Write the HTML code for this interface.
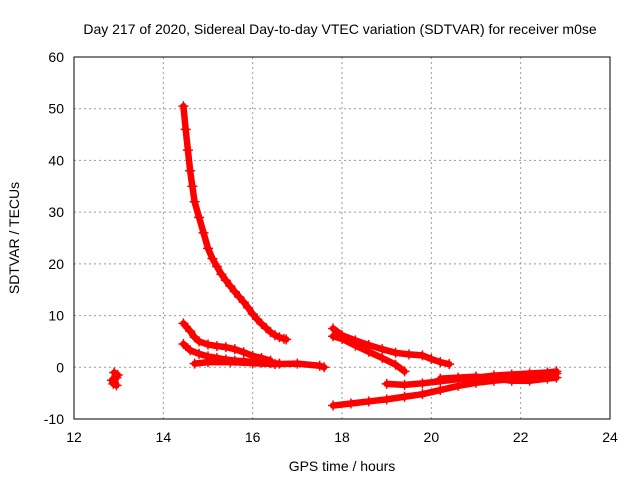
<!DOCTYPE html>
<html><head><meta charset="utf-8"><style>
body{margin:0;background:#fff}
svg{display:block;font-family:"Liberation Sans",sans-serif}
</style></head><body>
<svg id="c" width="640" height="480">
<text x="340" y="34" text-anchor="middle" font-size="14">Day 217 of 2020, Sidereal Day-to-day VTEC variation (SDTVAR) for receiver m0se</text>
<text x="342" y="471" text-anchor="middle" font-size="14">GPS time / hours</text>
<text transform="translate(19,238) rotate(-90)" text-anchor="middle" font-size="14">SDTVAR / TECUs</text>
<g id="grid"></g><g id="marks"></g>
<rect x="74" y="57" width="536" height="362" fill="none" stroke="#000" stroke-width="1"/>
</svg>
<script>
const xTicks=[12,14,16,18,20,22,24];
const yTicks=[-10,0,10,20,30,40,50,60];
const sA=[[14.45,50.5],[14.5,46],[14.55,42],[14.6,38],[14.65,35],[14.7,32],[14.8,29],[14.9,26],[15.0,23],[15.1,21],[15.2,19.5],[15.3,18],[15.4,16.8],[15.5,15.7],[15.6,14.6],[15.7,13.6],[15.8,12.6],[15.9,11.5],[16.0,10.3],[16.1,9.3],[16.2,8.4],[16.3,7.6],[16.4,6.8],[16.5,6.2],[16.6,5.8],[16.7,5.5],[16.75,5.4]];
const sB=[[14.45,8.5],[14.6,7],[14.7,5.8],[14.8,5],[15.0,4.4],[15.2,4.1],[15.4,3.9],[15.6,3.5],[15.8,2.9],[16.0,2.2],[16.2,1.8],[16.4,1.3]];
const sC=[[14.45,4.5],[14.6,3.3],[14.8,2.6],[15.0,2.1],[15.2,1.8],[15.4,1.5],[15.6,1.3],[15.8,1.2],[16.0,1.0],[16.2,0.9],[16.4,0.8],[16.6,0.7]];
const sD=[[14.7,0.7],[15.0,1],[15.5,1],[16,0.8],[16.5,0.6],[17,0.7],[17.5,0.3],[17.6,0]];
const sE=[[12.9,-1],[12.95,-2],[12.9,-3],[12.95,-3.5],[12.85,-2.5],[12.98,-1.5],[12.88,-3.2]];
const sF=[[17.8,7.5],[18.0,6.2],[18.3,5.2],[18.6,4.3],[18.9,3.5],[19.2,2.8],[19.5,2.5],[19.8,2.3],[20.0,1.6],[20.2,1.0],[20.4,0.6]];
const sG=[[17.8,6],[18.0,5.5],[18.3,4.2],[18.6,3],[18.9,1.8],[19.2,0.5],[19.4,-0.8]];
const sH=[[17.8,-7.4],[18.2,-7],[18.6,-6.6],[19.0,-6.2],[19.4,-5.7],[19.8,-5.2],[20.2,-4.4],[20.6,-3.6],[21.0,-3],[21.4,-2.6],[21.8,-2.3],[22.2,-2],[22.6,-1.5],[22.8,-1.2]];
const sI=[[19.0,-3.2],[19.4,-3.4],[19.8,-3.1],[20.2,-2.7],[20.6,-2.3],[21.0,-2.0],[21.4,-1.6],[21.8,-1.4],[22.2,-1.2],[22.6,-1.0],[22.8,-0.8]];
const sJ=[[20.2,-2.2],[20.6,-2],[21,-1.8],[21.4,-2.2],[21.8,-2.6],[22.2,-2.6],[22.6,-2.2],[22.8,-2]];
const series=[sA,sB,sC,sD,sE,sF,sG,sH,sI,sJ];
const X=v=>74+(v-12)*536/12;
const Y=v=>419-(v+10)*362/70;
const NS="http://www.w3.org/2000/svg";
const g=document.getElementById('grid'),m=document.getElementById('marks');
function el(t,a,p){const e=document.createElementNS(NS,t);for(const k in a)e.setAttribute(k,a[k]);p.appendChild(e);return e;}
xTicks.forEach(t=>{
 if(t>12&&t<24){const l=el('line',{x1:X(t),x2:X(t),y1:57,y2:419,stroke:'#999','stroke-dasharray':'2,3'},g);
 
 }
 const tx=el('text',{x:X(t),y:442,'text-anchor':'middle','font-size':14},g);tx.textContent=t;
 
 
});
yTicks.forEach(t=>{
 if(t>-10&&t<60){const l=el('line',{x1:74,x2:610,y1:Y(t),y2:Y(t),stroke:'#999','stroke-dasharray':'2,3'},g);
 
 }
 const tx=el('text',{x:64,y:Y(t)+5,'text-anchor':'end','font-size':14},g);tx.textContent=t;
 
 
});
series.forEach((s,i)=>{
 const pl=el('polyline',{points:s.map(p=>X(p[0])+','+Y(p[1])).join(' '),fill:'none',stroke:'#f00','stroke-width':6.5,'stroke-linejoin':'round','stroke-linecap':'round'},m);
 
 
 s.forEach(p=>{
  const x=X(p[0]),y=Y(p[1]);
  const pm=el('path',{d:`M${x-5},${y}h10M${x},${y-5}v10`,stroke:'#f00','stroke-width':1.5},m);
  
  
 });
});
</script>
</body></html>
